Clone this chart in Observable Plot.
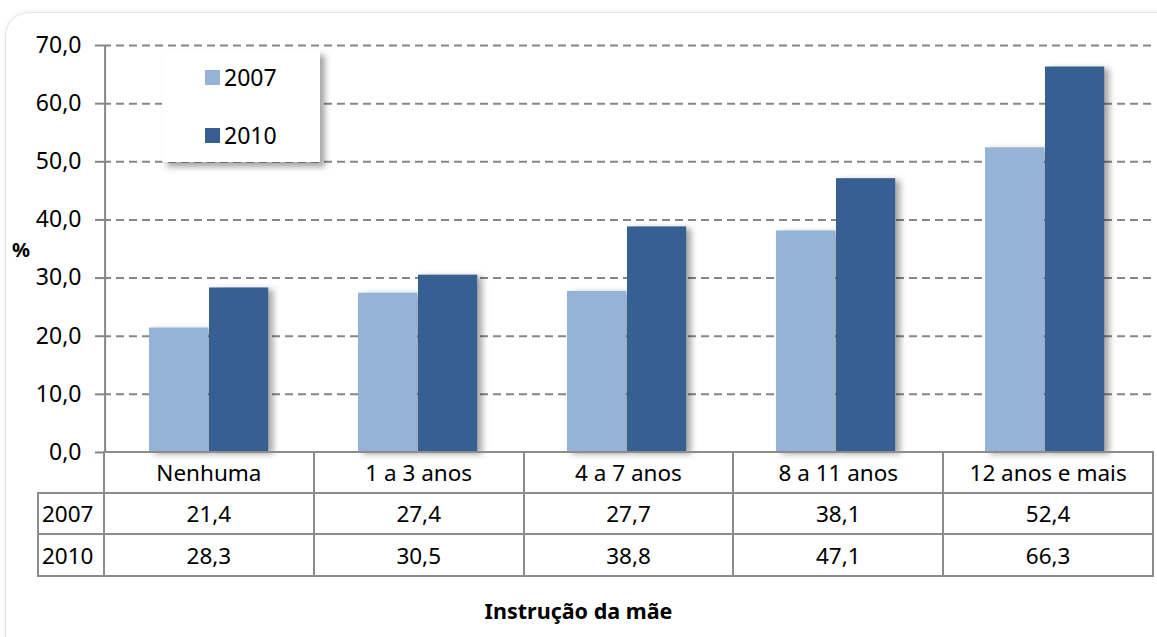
<!DOCTYPE html>
<html>
<head>
<meta charset="utf-8">
<script src="https://cdn.jsdelivr.net/npm/d3@7"></script>
<script src="https://cdn.jsdelivr.net/npm/@observablehq/plot@0.6"></script>
<style>
  html, body { margin: 0; padding: 0; background: #fff; }
  body { width: 1157px; height: 637px; overflow: hidden; position: relative; font-family: "Noto Sans", sans-serif; color: #000; }
  #panel { position: absolute; left: 5px; top: 12px; width: 1180px; height: 650px; border: 1px solid #e6e6e6; border-radius: 24px; box-shadow: 0 0 4px rgba(0,0,0,0.08); background: #fff; }
  #chart { position: absolute; left: 0; top: 0; }
  #legend { position: absolute; left: 162px; top: 50px; width: 158px; height: 112px; background: #fff; box-shadow: 5px 5px 6px rgba(0,0,0,0.35); font-size: 23px; }
  #legend .item { position: absolute; left: 43px; display: flex; align-items: center; }
  #legend .sw { width: 15px; height: 15px; margin-right: 4px; }
  #table { position: absolute; left: 37px; top: 451px; border-collapse: collapse; table-layout: fixed; font-size: 22.5px; }
  #table td { border: 2px solid #8c8c8c; text-align: center; padding: 0; }
  #table td.lab { text-align: left; padding-left: 3px; }
  #table td.blank { border: none; border-right: 2px solid #8c8c8c; }
  #ylab { position: absolute; left: 12px; top: 236px; font-weight: bold; font-size: 20px; }
  #xtitle { position: absolute; left: 0; width: 1157px; top: 596px; text-align: center; font-weight: bold; font-size: 21.5px; }
</style>
</head>
<body>
<div id="panel"></div>
<div id="chart"></div>
<div id="legend"></div>
<table id="table"></table>
<div id="ylab">%</div>
<div id="xtitle">Instrução da mãe</div>
<script>
const categories = ["Nenhuma", "1 a 3 anos", "4 a 7 anos", "8 a 11 anos", "12 anos e mais"];
const years = ["2007", "2010"];
const values2007 = [21.4, 27.4, 27.7, 38.1, 52.4];
const values2010 = [28.3, 30.5, 38.8, 47.1, 66.3];
const yTicks = [0, 10, 20, 30, 40, 50, 60, 70];
const colors = ["#95B3D7", "#376092"];

const fmt = d => d.toFixed(1).replace(".", ",");
const d2007 = categories.map((c, i) => ({cat: c, v: values2007[i]}));
const d2010 = categories.map((c, i) => ({cat: c, v: values2010[i]}));

const W = 1157, mL = 103, mR = 5;
const bw = (W - mL - mR) / categories.length;

const plot = Plot.plot({
  width: W,
  height: 460,
  marginTop: 45,
  marginBottom: 8,
  marginLeft: mL,
  marginRight: mR,
  style: {fontFamily: "Noto Sans", fontSize: "23px", color: "#000", background: "transparent", overflow: "visible"},
  x: {type: "band", domain: categories, padding: 0, axis: null},
  y: {domain: [0, 70], axis: null},
  marks: [
    Plot.ruleY(yTicks.filter(d => d > 0), {stroke: "#868686", strokeWidth: 2, strokeDasharray: "8,5"}),
    Plot.barY(d2007, {x: "cat", y: "v", fill: colors[0], insetLeft: 44, insetRight: bw - 104}),
    Plot.barY(d2010, {x: "cat", y: "v", fill: colors[1], insetLeft: 104, insetRight: bw - 164}),
    Plot.ruleX([categories[0]], {y1: 0, y2: 70, stroke: "#868686", strokeWidth: 2, dx: -bw / 2}),
    Plot.axisY({ticks: yTicks, tickFormat: fmt, tickSize: 8, tickPadding: 14, label: null, stroke: "#868686", strokeWidth: 2, fontSize: 23, fill: "#000"})
  ]
});
document.getElementById("chart").appendChild(plot);

d3.select(plot).selectAll("g[aria-label='bar']").style("filter", "drop-shadow(5px 2px 3px rgba(0,0,0,0.35))");

// legend
const legend = document.getElementById("legend");
years.forEach((y, i) => {
  const it = document.createElement("div");
  it.className = "item";
  it.style.top = (i === 0 ? 11 : 69) + "px";
  it.innerHTML = `<span class="sw" style="background:${colors[i]}"></span><span>${y}</span>`;
  legend.appendChild(it);
});

// data table
const table = document.getElementById("table");
const cg = document.createElement("colgroup");
cg.innerHTML = `<col style="width:66px">` + categories.map(() => `<col style="width:${bw}px">`).join("");
table.appendChild(cg);
const hdr = table.insertRow();
hdr.style.height = "41px";
const b = hdr.insertCell(); b.className = "blank";
categories.forEach(c => { hdr.insertCell().textContent = c; });
[values2007, values2010].forEach((vals, r) => {
  const row = table.insertRow();
  row.style.height = r === 0 ? "41px" : "42px";
  const l = row.insertCell(); l.className = "lab"; l.textContent = years[r];
  vals.forEach(v => { row.insertCell().textContent = fmt(v); });
});
</script>
</body>
</html>
